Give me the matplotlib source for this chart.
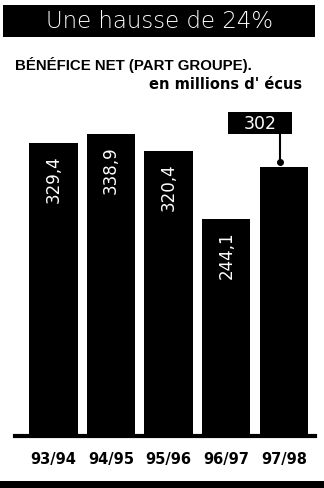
import matplotlib
matplotlib.use("Agg")
import matplotlib.pyplot as plt
from matplotlib.patches import Rectangle

# data
years = ["93/94", "94/95", "95/96", "96/97", "97/98"]
values = [329.4, 338.9, 320.4, 244.1, 302]
value_labels = ["329,4", "338,9", "320,4", "244,1", "302"]

W, H = 324, 489
fig = plt.figure(figsize=(W / 100, H / 100), dpi=100)
fig.patch.set_facecolor("white")

# header band
fig.patches.append(Rectangle((3 / W, 1 - 38 / H), 312 / W, 32 / H,
                             transform=fig.transFigure, facecolor="black",
                             edgecolor="none"))
fig.text(160 / W, 1 - 22 / H, "Une hausse de 24%", color="white",
         fontsize=16.5, ha="center", va="center", family="DejaVu Sans",
         fontweight="light")
fig.text(15 / W, 1 - 65 / H, "BÉNÉFICE NET (PART GROUPE).",
         fontsize=10.8, fontweight="bold", ha="left", va="center",
         family="Liberation Sans")
fig.text(302 / W, 1 - 85 / H, "en millions d' écus", fontsize=10.5,
         fontweight="bold", ha="right", va="center", family="DejaVu Sans")

# bottom strip
fig.patches.append(Rectangle((0, 0), 1, 7 / H, transform=fig.transFigure,
                             facecolor="black", edgecolor="none"))

# bars
px_per_unit = 0.891
ymax = 400
ax = fig.add_axes([15 / W, (H - 437) / H, 300 / W, ymax * px_per_unit / H])
ax.set_facecolor("none")
x = list(range(len(values)))
ax.bar(x, values, width=0.84, color="black")
ax.set_xlim(-0.668, 4.54)
ax.set_ylim(0, ymax)
ax.axhline(0, color="black", lw=3, clip_on=False)
for s in ax.spines.values():
    s.set_visible(False)
ax.set_yticks([])
ax.set_xticks(x)
ax.set_xticklabels(years, fontsize=10.5, fontweight="bold",
                   family="DejaVu Sans")
ax.tick_params(axis="x", length=0, pad=11)

# values inside bars
for i in range(4):
    ax.text(x[i], values[i] - 13, value_labels[i], rotation=90, color="white",
            ha="center", va="top", fontsize=12)

# callout for the last year: box above, stem down to the bar
last = len(values) - 1
ax.add_patch(Rectangle((x[last] - 0.97, values[last] + 37), 1.11, 24.6,
                       facecolor="black", edgecolor="none", clip_on=False))
ax.text(x[last] - 0.415, values[last] + 49.5, value_labels[last],
        color="white", fontsize=12.5, ha="center", va="center")
ax.plot([x[last] - 0.07, x[last] - 0.07],
        [values[last] + 37, values[last] + 6], color="black", lw=1.5)
ax.plot([x[last] - 0.07], [values[last] + 6], "o", color="black", ms=4)

fig.savefig("out.png", dpi=100)
